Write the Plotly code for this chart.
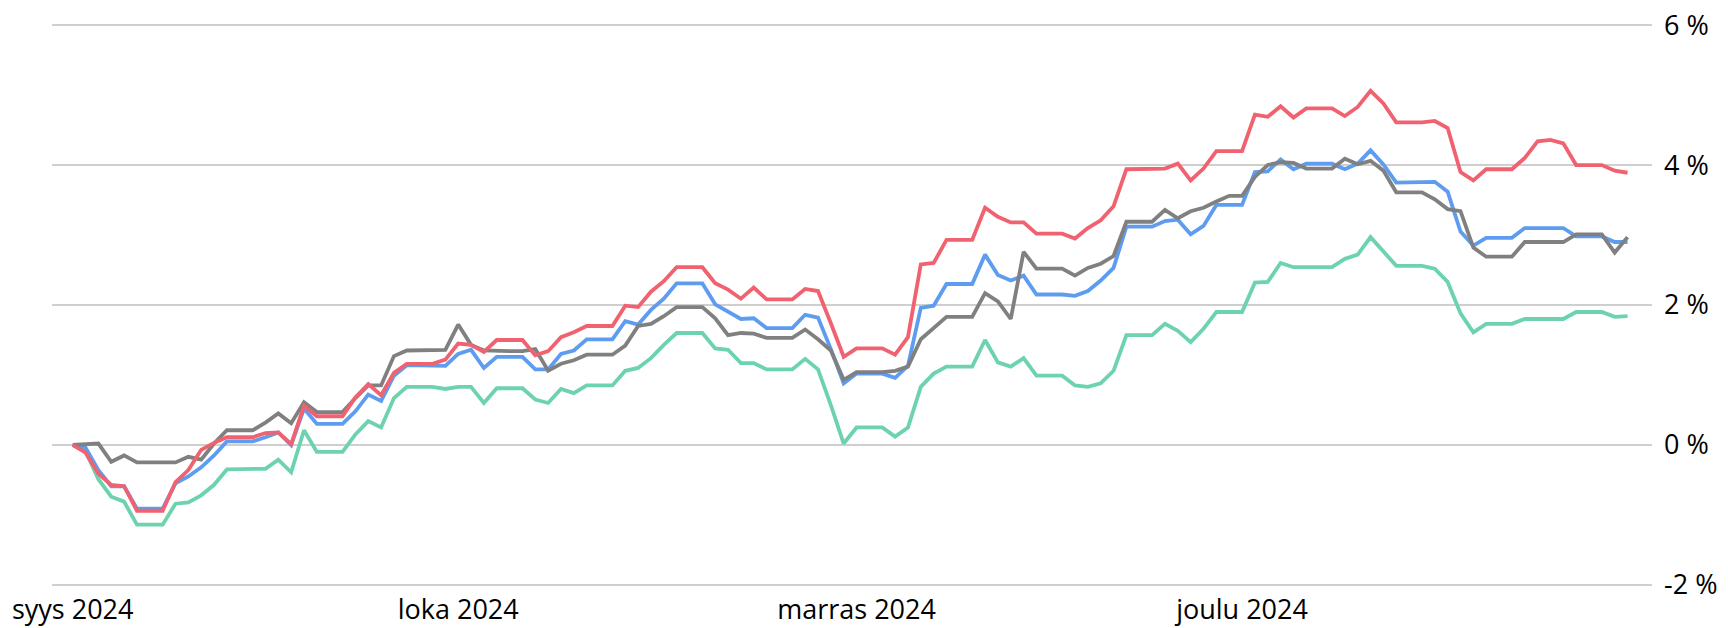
import pandas as pd
import plotly.graph_objects as go

dates = pd.date_range("2024-09-01", "2024-12-31", freq="D")

red = [0, -0.11, -0.41, -0.57, -0.59, -0.94, -0.94, -0.94, -0.53, -0.36, -0.07, 0.03, 0.11, 0.11, 0.11, 0.17, 0.18, 0.01, 0.56, 0.41, 0.41, 0.41, 0.68, 0.87, 0.71, 1.03, 1.16, 1.16, 1.16,
       1.22, 1.45, 1.43, 1.33, 1.50, 1.50, 1.50, 1.28, 1.34, 1.54, 1.61, 1.70, 1.70, 1.70, 1.99, 1.97, 2.19, 2.34, 2.54, 2.54, 2.54, 2.31, 2.22, 2.09, 2.25, 2.08, 2.08, 2.08, 2.23, 2.20, 1.74, 1.26, 1.38,
       1.38, 1.38, 1.29, 1.54, 2.58, 2.60, 2.93, 2.93, 2.93, 3.39, 3.26, 3.18, 3.18, 3.02, 3.02, 3.02, 2.95, 3.10, 3.21, 3.41, 3.94, 3.94, 3.94, 3.95, 4.02, 3.78, 3.95, 4.20, 4.20, 4.20, 4.72, 4.69, 4.84,
       4.68, 4.81, 4.81, 4.81, 4.70, 4.83, 5.06, 4.88, 4.61, 4.61, 4.61, 4.63, 4.53, 3.90, 3.78, 3.94, 3.94, 3.94, 4.10, 4.34, 4.36, 4.31, 4.00, 4.00, 4.00, 3.92, 3.89]

blue = [0, -0.04, -0.36, -0.59, -0.59, -0.91, -0.91, -0.91, -0.55, -0.45, -0.32, -0.15, 0.05, 0.05, 0.05, 0.11, 0.18, 0.00, 0.52, 0.30, 0.30, 0.30, 0.48, 0.72, 0.63, 0.99, 1.14, 1.14, 1.14,
        1.13, 1.30, 1.36, 1.10, 1.26, 1.26, 1.26, 1.08, 1.08, 1.30, 1.35, 1.51, 1.51, 1.51, 1.77, 1.72, 1.93, 2.09, 2.31, 2.31, 2.31, 2.01, 1.90, 1.80, 1.81, 1.67, 1.67, 1.67, 1.86, 1.82, 1.37, 0.88, 1.02,
        1.02, 1.02, 0.96, 1.13, 1.96, 1.99, 2.30, 2.30, 2.30, 2.72, 2.43, 2.35, 2.42, 2.15, 2.15, 2.15, 2.13, 2.20, 2.35, 2.53, 3.12, 3.12, 3.12, 3.20, 3.22, 3.01, 3.13, 3.43, 3.43, 3.43, 3.90, 3.91, 4.08,
        3.94, 4.02, 4.02, 4.02, 3.94, 4.02, 4.21, 4.01, 3.75, 3.75, 3.75, 3.76, 3.62, 3.05, 2.85, 2.96, 2.96, 2.96, 3.10, 3.10, 3.10, 3.10, 2.98, 2.98, 2.98, 2.90, 2.90]

gray = [0, 0.01, 0.02, -0.24, -0.15, -0.25, -0.25, -0.25, -0.25, -0.17, -0.21, 0.02, 0.21, 0.21, 0.21, 0.32, 0.45, 0.31, 0.61, 0.47, 0.47, 0.47, 0.67, 0.85, 0.85, 1.27, 1.35, 1.35, 1.35,
        1.36, 1.72, 1.43, 1.35, 1.34, 1.34, 1.34, 1.37, 1.06, 1.16, 1.21, 1.29, 1.29, 1.29, 1.42, 1.70, 1.73, 1.84, 1.97, 1.97, 1.97, 1.81, 1.57, 1.60, 1.59, 1.53, 1.53, 1.53, 1.65, 1.51, 1.35, 0.93, 1.04,
        1.04, 1.04, 1.06, 1.12, 1.51, 1.67, 1.83, 1.83, 1.83, 2.17, 2.05, 1.80, 2.76, 2.52, 2.52, 2.52, 2.42, 2.53, 2.59, 2.70, 3.19, 3.19, 3.19, 3.36, 3.24, 3.34, 3.39, 3.48, 3.56, 3.56, 3.83, 4.00, 4.04,
        4.03, 3.95, 3.95, 3.95, 4.09, 4.01, 4.06, 3.92, 3.61, 3.61, 3.61, 3.51, 3.37, 3.34, 2.82, 2.69, 2.69, 2.69, 2.90, 2.90, 2.90, 2.90, 3.01, 3.01, 3.01, 2.75, 2.97]

green = [0, -0.09, -0.49, -0.74, -0.81, -1.14, -1.14, -1.14, -0.84, -0.82, -0.72, -0.57, -0.35, -0.35, -0.35, -0.34, -0.21, -0.39, 0.21, -0.10, -0.10, -0.10, 0.15, 0.34, 0.25, 0.67, 0.83, 0.83, 0.83,
         0.80, 0.83, 0.83, 0.60, 0.81, 0.81, 0.81, 0.65, 0.60, 0.80, 0.74, 0.85, 0.85, 0.85, 1.06, 1.10, 1.24, 1.43, 1.60, 1.60, 1.60, 1.38, 1.36, 1.17, 1.17, 1.08, 1.08, 1.08, 1.23, 1.08, 0.57, 0.02, 0.25,
         0.25, 0.25, 0.12, 0.25, 0.83, 1.02, 1.12, 1.12, 1.12, 1.50, 1.18, 1.12, 1.24, 0.99, 0.99, 0.99, 0.85, 0.83, 0.88, 1.06, 1.57, 1.57, 1.57, 1.73, 1.63, 1.47, 1.66, 1.90, 1.90, 1.90, 2.32, 2.33, 2.60,
         2.54, 2.54, 2.54, 2.54, 2.66, 2.72, 2.97, 2.77, 2.56, 2.56, 2.56, 2.52, 2.33, 1.88, 1.61, 1.73, 1.73, 1.73, 1.80, 1.80, 1.80, 1.80, 1.90, 1.90, 1.90, 1.83, 1.84]

month_ticks = ["2024-09-01", "2024-10-01", "2024-11-01", "2024-12-01"]
month_labels = ["syys 2024", "loka 2024", "marras 2024", "joulu 2024"]
y_ticks = [-2, 0, 2, 4, 6]
y_labels = ["-2 %", "0 %", "2 %", "4 %", "6 %"]

series = [
    ("green", green, "#6DD3AE"),
    ("blue", blue, "#5E9CF0"),
    ("gray", gray, "#808080"),
    ("red", red, "#F0626F"),
]

fig = go.Figure()
for name, vals, color in series:
    fig.add_trace(go.Scatter(x=dates, y=vals, mode="lines", name=name,
                             line=dict(color=color, width=3.8), showlegend=False,
                             hoverinfo="skip"))

fig.update_layout(
    width=1728, height=628,
    margin=dict(l=52, r=76, t=23, b=41),
    plot_bgcolor="white", paper_bgcolor="white",
    font=dict(family="Open Sans", size=27, color="#000000"),
)
fig.update_xaxes(
    range=["2024-08-30 09:20", "2025-01-01 21:40"],
    tickvals=month_ticks, ticktext=month_labels,
    showgrid=False, zeroline=False, showline=False, ticks="",
    ticklabelstandoff=4, automargin=False,
)
fig.update_yaxes(
    side="right", range=[-2.03, 6.03], tickvals=y_ticks, ticktext=y_labels,
    showgrid=True, gridcolor="#CFCFCF", gridwidth=1.5,
    zeroline=False, showline=False, ticks="",
    ticklabelstandoff=11, automargin=False,
)
fig.write_html("out.html", config={"displayModeBar": False},
               post_script="document.body.style.margin='0px';")
